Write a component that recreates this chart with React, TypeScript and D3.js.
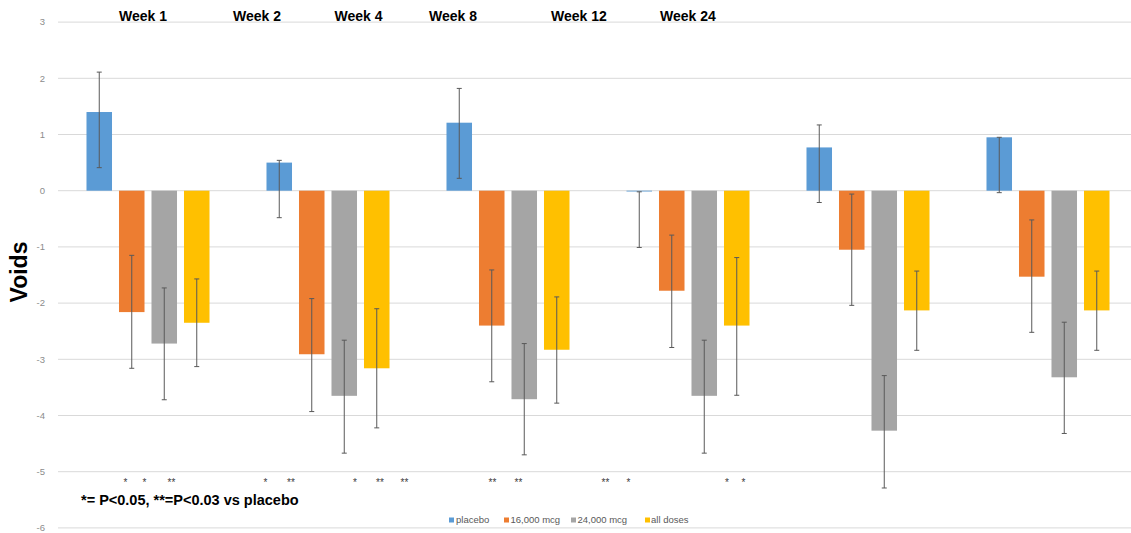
import React from "react";
import * as d3 from "d3";

// ---- data ----
const groups = ["G1", "G2", "G3", "G4", "G5", "G6"];
const seriesNames = ["placebo", "16,000 mcg", "24,000 mcg", "all doses"];
const placebo = [1.4, 0.5, 1.21, -0.01, 0.77, 0.95];
const dose16k = [-2.16, -2.91, -2.4, -1.78, -1.05, -1.53];
const dose24k = [-2.72, -3.65, -3.71, -3.65, -4.27, -3.32];
const allDoses = [-2.35, -3.16, -2.83, -2.4, -2.13, -2.13];
const placeboErrHi = [2.11, 0.54, 1.82, -0.02, 1.17, 0.95];
const placeboErrLo = [0.41, -0.48, 0.22, -1.01, -0.21, -0.035];
const dose16kErrHi = [-1.15, -1.92, -1.41, -0.79, -0.06, -0.52];
const dose16kErrLo = [-3.16, -3.93, -3.4, -2.79, -2.04, -2.52];
const dose24kErrHi = [-1.73, -2.66, -2.72, -2.66, -3.29, -2.34];
const dose24kErrLo = [-3.72, -4.67, -4.7, -4.67, -5.29, -4.32];
const allDosesErrHi = [-1.57, -2.1, -1.89, -1.19, -1.43, -1.43];
const allDosesErrLo = [-3.13, -4.22, -3.78, -3.64, -2.84, -2.84];
const yTicks = [3, 2, 1, 0, -1, -2, -3, -4, -5, -6];
const weekLabels = ["Week 1", "Week 2", "Week 4", "Week 8", "Week 12", "Week 24"];
const sigLabels = ["*", "*", "**", "*", "**", "*", "**", "**", "**", "**", "**", "*", "*", "*"];
const footnote = "*= P<0.05, **=P<0.03 vs placebo";
const yAxisTitle = "Voids";

// ---- layout (pixel positions of free annotations) ----
const weekLabelX = [119, 233, 334.5, 429, 551, 660];
const sigX = [125.5, 144.5, 171.5, 265.5, 291, 355, 380, 404.5, 492.5, 518.5, 605.5, 628.5, 727, 743.5];
const colors = ["#5b9bd5", "#ed7d31", "#a5a5a5", "#ffc000"];

const W = 1131;
const H = 533;

export default function App() {
  const values = [placebo, dose16k, dose24k, allDoses];
  const errHi = [placeboErrHi, dose16kErrHi, dose24kErrHi, allDosesErrHi];
  const errLo = [placeboErrLo, dose16kErrLo, dose24kErrLo, allDosesErrLo];

  const y = d3.scaleLinear().domain([-6, 3]).range([527.9, 22.1]);
  const x0 = d3.scaleBand<string>().domain(groups).range([58, 1138]).padding(0);
  const x1 = d3
    .scaleBand<string>()
    .domain(seriesNames)
    .range([25, 155])
    .paddingInner(0.215)
    .paddingOuter(0.1075);
  const bw = x1.bandwidth();

  const legendItems = [
    { sq: 449, tx: 456 },
    { sq: 504, tx: 510.5 },
    { sq: 571, tx: 577.5 },
    { sq: 645, tx: 651 },
  ];

  return (
    <svg
      width={W}
      height={H}
      style={{ position: "absolute", left: 0, top: 0, background: "#fff" }}
      fontFamily="'Liberation Sans', Arial, sans-serif"
    >
      <rect x={0} y={0} width={W} height={H} fill="#ffffff" />
      {/* gridlines */}
      {yTicks.map((t) => (
        <g key={t}>
          <line x1={58} x2={W} y1={y(t)} y2={y(t)} stroke="#d9d9d9" strokeWidth={1} />
          <text x={45} y={y(t)} dy="0.35em" textAnchor="end" fontSize={9.5} fill="#8c8c8c">
            {t}
          </text>
        </g>
      ))}
      {/* y-axis title */}
      <text
        transform={`translate(27, 272) rotate(-90)`}
        textAnchor="middle"
        fontSize={23}
        fontWeight="bold"
        fill="#000"
      >
        {yAxisTitle}
      </text>
      {/* bars */}
      {groups.map((g, gi) => (
        <g key={g} transform={`translate(${x0(g)},0)`}>
          {seriesNames.map((s, si) => {
            const v = values[si][gi];
            const top = Math.min(y(v), y(0));
            const h = Math.max(Math.abs(y(v) - y(0)), 0.8);
            const bx = x1(s)!;
            const cx = bx + bw / 2;
            return (
              <g key={s}>
                <rect x={bx} y={top} width={bw} height={h} fill={colors[si]} />
                <line x1={cx} x2={cx} y1={y(errHi[si][gi])} y2={y(errLo[si][gi])} stroke="#595959" strokeWidth={1} />
                <line x1={cx - 2.5} x2={cx + 2.5} y1={y(errHi[si][gi])} y2={y(errHi[si][gi])} stroke="#595959" strokeWidth={1} />
                <line x1={cx - 2.5} x2={cx + 2.5} y1={y(errLo[si][gi])} y2={y(errLo[si][gi])} stroke="#595959" strokeWidth={1} />
              </g>
            );
          })}
        </g>
      ))}
      {/* week labels */}
      {weekLabels.map((w, i) => (
        <text key={w} x={weekLabelX[i]} y={21} fontSize={14} fontWeight="bold" fill="#000">
          {w}
        </text>
      ))}
      {/* significance marks */}
      {sigLabels.map((s, i) => (
        <text key={i} x={sigX[i]} y={486} textAnchor="middle" fontSize={10} fill="#404040">
          {s}
        </text>
      ))}
      {/* footnote */}
      <text x={81} y={505} fontSize={14.5} fontWeight="bold" fill="#000">
        {footnote}
      </text>
      {/* legend */}
      {seriesNames.map((s, i) => (
        <g key={s}>
          <rect x={legendItems[i].sq} y={517.5} width={5} height={5} fill={colors[i]} />
          <text x={legendItems[i].tx} y={520} dy="0.35em" fontSize={9.5} fill="#595959">
            {s}
          </text>
        </g>
      ))}
    </svg>
  );
}
